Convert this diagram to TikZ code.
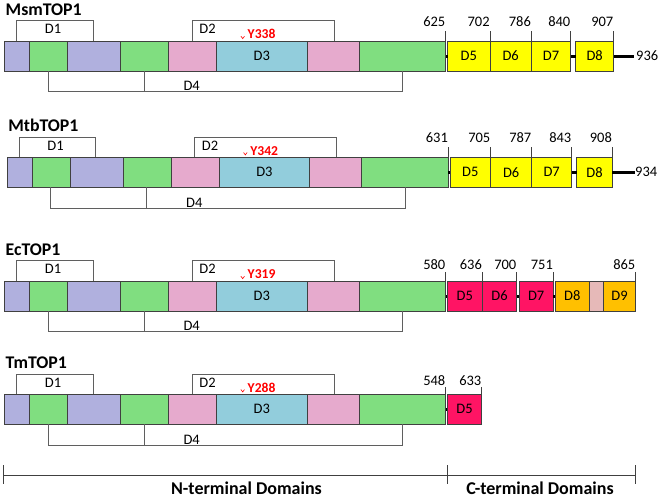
\documentclass[tikz,border=0pt]{standalone}
\usepackage{fontspec}
\setmainfont{Carlito}
\usetikzlibrary{positioning}
\definecolor{tpLav}{RGB}{176,176,222}
\definecolor{tpGreen}{RGB}{128,222,128}
\definecolor{tpPink}{RGB}{230,170,205}
\definecolor{tpAqua}{RGB}{146,205,220}
\definecolor{tpYellow}{RGB}{255,255,0}
\definecolor{tpCrim}{RGB}{255,20,100}
\definecolor{tpGold}{RGB}{255,192,0}
\definecolor{tpPale}{RGB}{230,185,184}
\definecolor{tpEdge}{RGB}{64,64,64}
\definecolor{tpBrk}{RGB}{95,95,95}
\definecolor{tpRed}{RGB}{255,0,0}
\tikzset{
    seg/.style={
        draw=tpEdge,line width=0.8pt,fill=#1,minimum height=30pt,
        inner sep=0pt,outer sep=0pt,anchor=north west,
        font=\fontsize{14.5}{17}\selectfont
    },
    seg/.default=tpGreen,
    brk/.style={draw=tpBrk,line width=0.9pt},
    tick/.style={draw=tpEdge,line width=0.8pt},
    link/.style={draw=black,line width=3pt},
    num/.style={anchor=base east,inner sep=0pt,yshift=4.3pt,font=\fontsize{14.5}{17}\selectfont},
    dlab/.style={inner sep=0pt,font=\fontsize{14.5}{17}\selectfont},
    ylab/.style={anchor=west,inner sep=0pt,text=tpRed,font=\fontsize{13.6}{16}\selectfont\bfseries},
    protname/.style={anchor=base west,inner sep=0pt,font=\fontsize{17.8}{20}\selectfont\bfseries},
    domlab/.style={anchor=base,inner sep=0pt,font=\fontsize{18}{21}\selectfont\bfseries}
}
% shared N-terminal layout: #1 prefix, #2 name, #3 residue
\newcommand{\ntdomains}[3]{
\node[protname] (#1t) at (5.5,-25.5) {#2};
\node[seg=tpLav,minimum width=25pt] (#1a) at (4.3,0) {};
\node[seg=tpGreen,minimum width=38pt,right=0pt of #1a] (#1b) {};
\node[seg=tpLav,minimum width=53pt,right=0pt of #1b] (#1c) {};
\node[seg=tpGreen,minimum width=48pt,right=0pt of #1c] (#1d) {};
\node[seg=tpPink,minimum width=48.4pt,right=0pt of #1d] (#1e) {};
\node[seg=tpAqua,minimum width=90.3pt,right=0pt of #1e] (#1f) {D3};
\node[seg=tpPink,minimum width=52pt,right=0pt of #1f] (#1g) {};
\node[seg=tpGreen,minimum width=86.7pt,right=0pt of #1g] (#1h) {};
\coordinate (#1p) at (16.7,0);
\coordinate (#1q) at (93.3,0);
\draw[brk] (#1p) -- ++(0,-20.3) -| (#1q);
\node[dlab] (#1d1) at (53,-11.8) {D1};
\coordinate (#1v) at (192.3,0);
\coordinate (#1w) at (334,0);
\draw[brk] (#1v) -- ++(0,-20.3) -| (#1w);
\node[dlab] (#1d2) at (207.5,-11.8) {D2};
\coordinate (#1r) at (48.3,30);
\coordinate (#1s) at (144.3,30);
\coordinate (#1u) at (402.7,30);
\draw[brk] (#1r) -- ++(0,20.7) -| (#1u);
\draw[brk] (#1s) -- ++(0,20.7);
\node[dlab] (#1d4) at (191.7,45.2) {D4};
\node[ylab] (#1y) at (247.5,-6.7) {#3};
\draw[tpRed,line width=0.6pt] (240.9,-4.8) -- (242.7,-2.4) -- (244.5,-4.8);
}

\begin{document}
\begin{tikzpicture}[x=1pt,y=-1pt]
\useasboundingbox (0,0) rectangle (662,498);

% MsmTOP1
\begin{scope}[shift={(0,41)}]
\ntdomains{msm}{MsmTOP1}{Y338}
\node[seg=tpYellow,minimum width=42.3pt,right=2pt of msmh] (msm5) {D5};
\node[seg=tpYellow,minimum width=41.3pt,right=0pt of msm5] (msm6) {D6};
\node[seg=tpYellow,minimum width=39.4pt,right=0pt of msm6] (msm7) {D7};
\node[seg=tpYellow,minimum width=38pt,right=5pt of msm7] (msm8) {D8};
\coordinate[right=20.3pt of msm8.east] (msmc);
\draw[link] (msmh) -- (msm5);
\draw[link] (msm7) -- (msm8);
\draw[link] (msm8) -- (msmc);
\node[dlab,anchor=west] (msmend) at ([xshift=2pt]msmc) {936};
\draw[tick] (msmh.north east) -- ++(0,-10) node[num] (msmn1) {625};
\draw[tick] (msm5.north east) -- ++(0,-10) node[num] (msmn2) {702};
\draw[tick] (msm6.north east) -- ++(0,-10) node[num] (msmn3) {786};
\draw[tick] (msm7.north east) -- ++(0,-10) node[num] (msmn4) {840};
\draw[tick] (msm8.north east) -- ++(0,-10) node[num] (msmn5) {907};
\end{scope}

% MtbTOP1
\begin{scope}[shift={(2.6,157.3)}]
\ntdomains{mtb}{MtbTOP1}{Y342}
\node[seg=tpYellow,minimum width=40.7pt,right=1.7pt of mtbh] (mtb5) {D5};
\node[seg=tpYellow,minimum width=41pt,right=0pt of mtb5] (mtb6) {D6};
\node[seg=tpYellow,minimum width=40pt,right=0pt of mtb6] (mtb7) {D7};
\node[seg=tpYellow,minimum width=35.6pt,right=5pt of mtb7] (mtb8) {D8};
\coordinate[right=22.7pt of mtb8.east] (mtbc);
\draw[link] (mtbh) -- (mtb5);
\draw[link] (mtb7) -- (mtb8);
\draw[link] (mtb8) -- (mtbc);
\node[dlab,anchor=west] (mtbend) at (mtbc) {934};
\draw[tick] (mtbh.north east) -- ++(0,-10.6) node[num] (mtbn1) {631};
\draw[tick] (mtb5.north east) -- ++(0,-10.6) node[num] (mtbn2) {705};
\draw[tick] (mtb6.north east) -- ++(0,-10.6) node[num] (mtbn3) {787};
\draw[tick] (mtb7.north east) -- ++(0,-10.6) node[num] (mtbn4) {843};
\draw[tick] (mtb8.north east) -- ++(0,-10.6) node[num] (mtbn5) {908};
\end{scope}

% EcTOP1
\begin{scope}[shift={(0,281)}]
\ntdomains{ec}{EcTOP1}{Y319}
\node[seg=tpCrim,minimum width=35pt,right=1.6pt of ech] (ec5) {D5};
\node[seg=tpCrim,minimum width=34.4pt,right=0pt of ec5] (ec6) {D6};
\node[seg=tpCrim,minimum width=34.3pt,right=2.3pt of ec6] (ec7) {D7};
\node[seg=tpGold,minimum width=34pt,right=2pt of ec7] (ec8) {D8};
\node[seg=tpPale,minimum width=14pt,right=0pt of ec8] (ecx) {};
\node[seg=tpGold,minimum width=32.4pt,right=0pt of ecx] (ec9) {D9};
\draw[link] (ech) -- (ec5);
\draw[link] (ec6) -- (ec7);
\draw[link] (ec7) -- (ec8);
\draw[tick] (ech.north east) -- ++(0,-9.3) node[num,yshift=-1.6pt] (ecn1) {580};
\draw[tick] (ec5.north east) -- ++(0,-9.3) node[num,yshift=-1.6pt] (ecn2) {636};
\draw[tick] (ec6.north east) -- ++(0,-9.3) node[num,yshift=-1.6pt] (ecn3) {700};
\draw[tick] (ec7.north east) -- ++(0,-9.3) node[num,yshift=-1.6pt] (ecn4) {751};
\draw[tick] (ec9.north east) -- ++(0,-9.3) node[num,yshift=-1.6pt] (ecn5) {865};
\end{scope}

% TmTOP1
\begin{scope}[shift={(0,394.3)}]
\ntdomains{tm}{TmTOP1}{Y288}
\node[seg=tpCrim,minimum width=34.4pt,right=1.6pt of tmh] (tm5) {D5};
\draw[link] (tmh) -- (tm5);
\draw[tick] (tmh.north east) -- ++(0,-7.6) node[num,yshift=-3.3pt] (tmn1) {548};
\draw[tick] (tm5.north east) -- ++(0,-7.6) node[num,yshift=-3.3pt] (tmn2) {633};
\end{scope}

% domain axis
\coordinate (axl) at (3.3,475.7);
\coordinate (axm) at (447.3,475.7);
\coordinate (axr) at (635.7,475.7);
\draw[tick] (axl) -- (axr);
\draw[tick] (axl) ++(0,-10.7) -- ++(0,19);
\draw[tick] (axm) ++(0,-10.7) -- ++(0,19);
\draw[tick] (axr) ++(0,-10.7) -- ++(0,19);
\node[domlab] (nterm) at (246.5,494) {N-terminal Domains};
\node[domlab] (cterm) at (540,494) {C-terminal Domains};

\end{tikzpicture}
\end{document}
